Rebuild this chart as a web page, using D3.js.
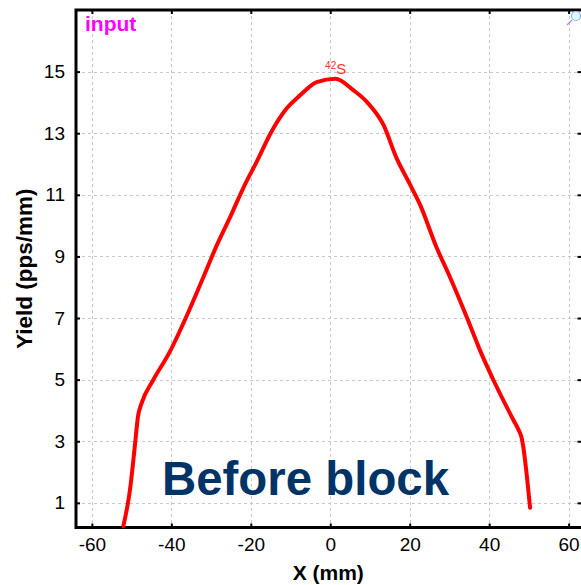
<!DOCTYPE html>
<html>
<head>
<meta charset="utf-8">
<script src="https://cdn.jsdelivr.net/npm/d3@7"></script>
<style>
  html, body { margin: 0; padding: 0; background: #fff; }
  svg { display: block; font-family: Arial, "Liberation Sans", sans-serif; }
</style>
</head>
<body>
<svg id="chart" width="581" height="585"></svg>
<script>
// ---- data ----
const xValues = [-52.1, -50.4, -49.2, -48.4, -47.5, -44.6, -40.4, -36.2, -32.0, -28.6, -25.3, -21.9,
                 -18.5, -14.8, -11.0, -7.6, -3.4, 1.3, 5.8, 9.2, 13.4, 16.7, 20.1, 22.6, 26.8,
                 30.2, 34.4, 37.7, 41.1, 46.1, 47.4, 48.2, 50.3];
const yValues = [0.24, 1.43, 2.83, 3.8, 4.23, 4.98, 5.9, 7.05, 8.31, 9.35, 10.25, 11.22,
                 12.08, 13.05, 13.8, 14.23, 14.66, 14.77, 14.4, 14.02, 13.27, 12.19, 11.33, 10.68, 9.28,
                 8.31, 7.02, 5.95, 4.98, 3.69, 3.37, 3.1, 0.84];
const xTicks = [-60, -40, -20, 0, 20, 40, 60];
const yTicks = [1, 3, 5, 7, 9, 11, 13, 15];
const xDomain = [-64, 64];
const yDomain = [0.2, 17];
const seriesLabel = "S";
const seriesMass = "42";
const panelLabel = "input";
const annotation = "Before block";
const xTitle = "X (mm)";
const yTitle = "Yield (pps/mm)";

// ---- layout ----
const svg = d3.select("#chart");
const L = 76, R = 584.5, T = 10, B = 527.5;
const x = d3.scaleLinear().domain(xDomain).range([L, R]);
const y = d3.scaleLinear().domain(yDomain).range([B, T]);
const fmt = d => String(d);

// grid
const grid = svg.append("g").attr("stroke", "#c8c8c8").attr("stroke-width", 1)
  .attr("stroke-dasharray", "3,3");
grid.selectAll("line.v").data(xTicks).join("line").attr("class", "v")
  .attr("x1", d => Math.round(x(d)) + 0.5).attr("x2", d => Math.round(x(d)) + 0.5)
  .attr("y1", T).attr("y2", B);
grid.selectAll("line.h").data(yTicks).join("line").attr("class", "h")
  .attr("y1", d => Math.round(y(d)) + 0.5).attr("y2", d => Math.round(y(d)) + 0.5)
  .attr("x1", L).attr("x2", R);

// axes (ticks pointing inward)
const axB = svg.append("g").attr("transform", `translate(0,${B})`)
  .call(d3.axisBottom(x).tickValues(xTicks).tickSize(-4).tickPadding(10).tickFormat(fmt));
const axT = svg.append("g").attr("transform", `translate(0,${T})`)
  .call(d3.axisTop(x).tickValues(xTicks).tickSize(-4).tickFormat(""));
const axL = svg.append("g").attr("transform", `translate(${L},0)`)
  .call(d3.axisLeft(y).tickValues(yTicks).tickSize(-4).tickPadding(10).tickFormat(fmt));
const axR = svg.append("g").attr("transform", `translate(${R - 3},0)`)
  .call(d3.axisRight(y).tickValues(yTicks).tickSize(-4).tickFormat(""));
[axB, axT, axL, axR].forEach(a => {
  a.select(".domain").remove();
  a.selectAll(".tick line").attr("stroke", "#000").attr("stroke-width", 2);
  a.selectAll(".tick text").attr("font-size", 19).attr("fill", "#000")
    .attr("font-family", "Arial, 'Liberation Sans', sans-serif");
});
axL.selectAll(".tick text").attr("dx", "-1");

// frame
svg.append("rect").attr("x", L).attr("y", T).attr("width", R - L).attr("height", B - T)
  .attr("fill", "none").attr("stroke", "#000").attr("stroke-width", 3);

// curve
const pts = xValues.map((v, i) => [v, yValues[i]]);
svg.append("path").datum(pts)
  .attr("fill", "none").attr("stroke", "#ff0000").attr("stroke-width", 4)
  .attr("stroke-linejoin", "round").attr("stroke-linecap", "round")
  .attr("d", d3.line().x(d => x(d[0])).y(d => y(d[1])).curve(d3.curveMonotoneX));

// isotope label
const iso = svg.append("text").attr("x", x(-1.3)).attr("y", y(15) + 2.5)
  .attr("fill", "#ff3030");
iso.append("tspan").attr("font-size", 10).attr("dy", -5).text(seriesMass);
iso.append("tspan").attr("font-size", 15).attr("dy", 5).text(seriesLabel);

// panel label
svg.append("text").attr("x", 85).attr("y", 31).attr("fill", "#ff00ff")
  .attr("font-weight", "bold").attr("font-size", 21).text(panelLabel);

// annotation
svg.append("text").attr("x", 162).attr("y", 495).attr("fill", "#003466")
  .attr("font-weight", "bold").attr("font-size", 47.4).text(annotation);

// axis titles
svg.append("text").attr("x", x(0) - 2).attr("y", 580).attr("text-anchor", "middle")
  .attr("font-weight", "bold").attr("font-size", 21).attr("fill", "#000").text(xTitle);
svg.append("text").attr("transform", `translate(32,${(T + B) / 2}) rotate(-90)`)
  .attr("text-anchor", "middle").attr("font-weight", "bold").attr("font-size", 22.5)
  .attr("fill", "#000").text(yTitle);

// small zoom icon at top right
const icon = svg.append("g");
icon.append("line").attr("x1", 572).attr("y1", 20).attr("x2", 567).attr("y2", 25)
  .attr("stroke", "#9a9aff").attr("stroke-width", 1.5);
icon.append("circle").attr("cx", 576).attr("cy", 16).attr("r", 4.5)
  .attr("fill", "#d8fff4").attr("stroke", "#9aa8ff").attr("stroke-width", 1.2);
</script>
</body>
</html>
